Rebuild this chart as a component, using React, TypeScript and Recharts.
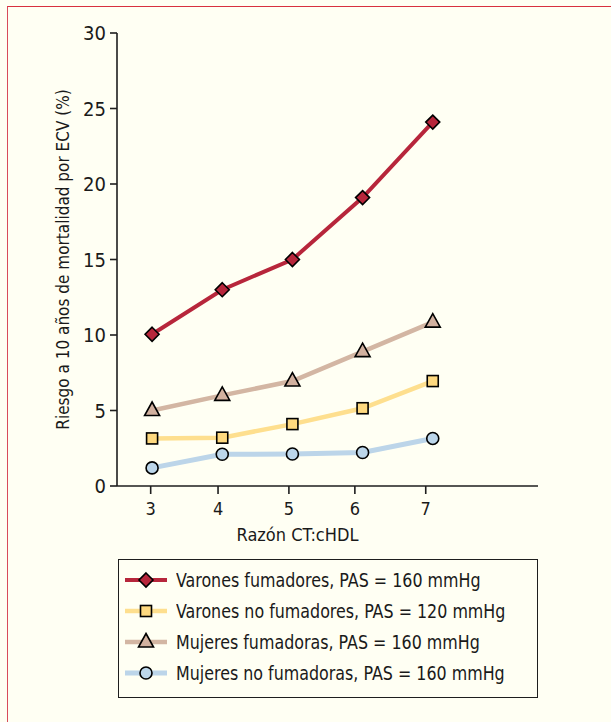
import React from "react";
import { LineChart, Line, XAxis, YAxis, Legend } from "recharts";

const ratios = [3, 4, 5, 6, 7];
const varonesFumadores = [10.05, 13.0, 15.0, 19.1, 24.1];
const varonesNoFumadores = [3.15, 3.2, 4.1, 5.15, 6.95];
const mujeresFumadoras = [5.0, 6.0, 6.95, 8.9, 10.85];
const mujeresNoFumadoras = [1.2, 2.1, 2.12, 2.22, 3.15];

const xTickValues = [2.98, 3.94, 4.95, 5.89, 6.9];
const xTickLabels = ["3", "4", "5", "6", "7"];
const yTicks = [0, 5, 10, 15, 20, 25, 30];

const seriesNames = [
  "Varones fumadores, PAS = 160 mmHg",
  "Varones no fumadores, PAS = 120 mmHg",
  "Mujeres fumadoras, PAS = 160 mmHg",
  "Mujeres no fumadoras, PAS = 160 mmHg",
];

const data = ratios.map((x, i) => ({
  x,
  vf: varonesFumadores[i],
  vnf: varonesNoFumadores[i],
  mf: mujeresFumadoras[i],
  mnf: mujeresNoFumadoras[i],
}));

const FONT = "'Liberation Sans Narrow', 'Arial Narrow', 'DejaVu Sans Condensed', sans-serif";
const BG = "#fffff3";
const AXIS = "#1e1e1e";

type Shape = "diamond" | "square" | "triangle" | "circle";

const series: { key: string; name: string; line: string; fill: string; shape: Shape; width: number }[] = [
  { key: "vf", name: seriesNames[0], line: "#b7263b", fill: "#b7263b", shape: "diamond", width: 4 },
  { key: "vnf", name: seriesNames[1], line: "#fedf8e", fill: "#fed97f", shape: "square", width: 4.5 },
  { key: "mf", name: seriesNames[2], line: "#d3b6a3", fill: "#d2b19f", shape: "triangle", width: 4.5 },
  { key: "mnf", name: seriesNames[3], line: "#bcd5e9", fill: "#bcd6ea", shape: "circle", width: 5 },
];

function marker(shape: Shape, cx: number, cy: number, fill: string, key?: string) {
  const sw = 1.6;
  if (shape === "diamond") {
    const r = 7;
    return (
      <path key={key} d={`M${cx},${cy - r}L${cx + r},${cy}L${cx},${cy + r}L${cx - r},${cy}Z`} fill={fill} stroke="#000" strokeWidth={sw} />
    );
  }
  if (shape === "square") {
    const h = 5.5;
    return <rect key={key} x={cx - h} y={cy - h} width={2 * h} height={2 * h} fill={fill} stroke="#000" strokeWidth={sw} />;
  }
  if (shape === "triangle") {
    const w = 7.5;
    const hTop = 8.5;
    const hBot = 5;
    return (
      <path key={key} d={`M${cx},${cy - hTop}L${cx + w},${cy + hBot}L${cx - w},${cy + hBot}Z`} fill={fill} stroke="#000" strokeWidth={sw} strokeLinejoin="miter" />
    );
  }
  return <circle key={key} cx={cx} cy={cy} r={6} fill={fill} stroke="#000" strokeWidth={sw} />;
}

const makeDot = (shape: Shape, fill: string) => (props: any) => {
  const { cx, cy, index } = props;
  if (cx == null || cy == null) return <g key={index} />;
  return marker(shape, cx, cy, fill, `d-${index}`);
};

const LegendBox = () => (
  <div
    style={{
      width: 420,
      height: 139,
      boxSizing: "border-box",
      border: `1.5px solid ${AXIS}`,
      fontFamily: FONT,
      fontSize: 19,
      color: "#1a1a1a",
      paddingTop: 4,
    }}
  >
    {series.map((s) => (
      <div key={s.key} style={{ display: "flex", alignItems: "center", height: 31, whiteSpace: "nowrap" }}>
        <svg width={56} height={20} style={{ marginLeft: 5, flex: "none" }}>
          <line x1={1} y1={10} x2={43} y2={10} stroke={s.line} strokeWidth={s.width} />
          {marker(s.shape, 22, 10, s.fill)}
        </svg>
        <span style={{ marginLeft: -4, display: "inline-block", transform: "scaleX(0.93)", transformOrigin: "left center" }}>{s.name}</span>
      </div>
    ))}
  </div>
);

export default function App() {
  return (
    <div style={{ position: "absolute", left: 0, top: 0, width: 611, height: 722, background: BG, overflow: "hidden" }}>
      <div
        style={{
          position: "absolute",
          left: 7,
          top: 6,
          width: 620,
          height: 740,
          borderTop: "1.5px solid #d8303f",
          borderLeft: "1.5px solid #d84b5a",
        }}
      />
      <div style={{ position: "absolute", left: 0, top: 0 }}>
        <LineChart
          width={611}
          height={722}
          data={data}
          margin={{ top: 33, right: 73, left: 0, bottom: 176 }}
          style={{ fontFamily: FONT }}
        >
          <XAxis
            dataKey="x"
            type="number"
            domain={[2.5, 8.5]}
            ticks={xTickValues}
            tickFormatter={(v: number) => xTickLabels[xTickValues.indexOf(v)] ?? ""}
            height={60}
            tickSize={8}
            tickMargin={8}
            axisLine={{ stroke: AXIS, strokeWidth: 1.6 }}
            tickLine={{ stroke: AXIS, strokeWidth: 1.6 }}
            tick={{ fill: "#1a1a1a", fontSize: 18, fontFamily: FONT }}
            allowDataOverflow
            label={{ value: "Razón CT:cHDL", position: "insideBottom", offset: 5, dx: -30, fill: "#1a1a1a", fontSize: 18, fontFamily: FONT }}
          />
          <XAxis
            xAxisId="top"
            orientation="top"
            dataKey="x"
            type="number"
            domain={[2.5, 8.5]}
            height={0}
            tick={false}
            tickLine={false}
            axisLine={{ stroke: AXIS, strokeWidth: 1.6 }}
          />
          <YAxis
            type="number"
            domain={[0, 30]}
            ticks={yTicks}
            width={117}
            tickSize={7}
            tickMargin={4}
            interval={0}
            axisLine={{ stroke: AXIS, strokeWidth: 1.6 }}
            tickLine={{ stroke: AXIS, strokeWidth: 1.6 }}
            tick={{ fill: "#1a1a1a", fontSize: 20, fontFamily: FONT }}
            label={{
              value: "Riesgo a 10 años de mortalidad por ECV (%)",
              angle: -90,
              position: "insideLeft",
              offset: 63,
              style: { textAnchor: "middle" },
              fill: "#1a1a1a",
              fontSize: 17,
              fontFamily: FONT,
            }}
          />
          <YAxis
            yAxisId="right"
            orientation="right"
            type="number"
            domain={[0, 30]}
            width={0}
            tick={false}
            tickLine={false}
            axisLine={{ stroke: AXIS, strokeWidth: 1.6 }}
          />
          {series.map((s) => (
            <Line
              key={s.key}
              dataKey={s.key}
              name={s.name}
              type="linear"
              stroke={s.line}
              strokeWidth={s.width}
              dot={makeDot(s.shape, s.fill)}
              activeDot={false}
              isAnimationActive={false}
            />
          ))}
          <Legend
            layout="vertical"
            align="center"
            verticalAlign="middle"
            content={() => <LegendBox />}
            wrapperStyle={{ left: 118, top: 559, width: 420, height: 139 }}
          />
        </LineChart>
      </div>
    </div>
  );
}
